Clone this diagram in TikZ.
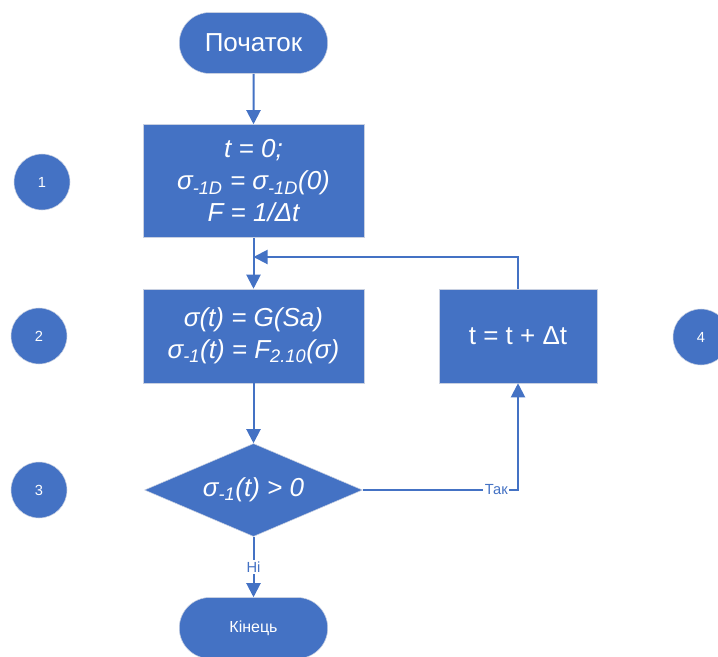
\documentclass[tikz,border=0pt]{standalone}
\usepackage{fontspec}
\setmainfont{Liberation Sans}
\usetikzlibrary{shapes.geometric, shapes.misc, arrows.meta}
\definecolor{officeblue}{HTML}{4472C4}
\definecolor{edgegray}{RGB}{200,208,225}
\begin{document}
\begin{tikzpicture}[x=0.75pt, y=-0.75pt,
    block/.style={rectangle, fill=officeblue, draw=edgegray, line width=0.4pt, text=white, align=center, inner sep=2pt},
    term/.style={rounded rectangle, fill=officeblue, draw=edgegray, line width=0.4pt, text=white, minimum width=118pt, minimum height=45.75pt},
    num/.style={circle, fill=officeblue, draw=edgegray, line width=0.4pt, text=white, minimum size=42pt, inner sep=0pt, font=\fontsize{11}{13}\selectfont},
    big/.style={font=\fontsize{19.5}{24}\selectfont},
    bigit/.style={font=\fontsize{19.5}{24}\selectfont\itshape},
    arr/.style={draw=officeblue, line width=1.5pt, -{Triangle[width=10.5pt,length=10.5pt]}},
    lbl/.style={fill=white, text=officeblue, inner sep=1pt, font=\fontsize{11}{13}\selectfont}]
    \useasboundingbox (0,0) rectangle (718,657);
    \node[term, big] (start) at (253.5,43) {Початок};
    \node[block, bigit, minimum width=165.75pt, minimum height=84.75pt] (init) at (253.5,181) {t = 0;\\ σ\textsubscript{-1D} = σ\textsubscript{-1D}(0)\\ F = 1/Δt};
    \node[block, bigit, minimum width=165.75pt, minimum height=70.5pt] (calc) at (253.5,336) {σ(t) = G(Sa)\\ σ\textsubscript{-1}(t) = F\textsubscript{2.10}(σ)};
    \node[diamond, fill=officeblue, draw=edgegray, line width=0.4pt, text=white, bigit, inner sep=0pt, shape aspect=2.4, minimum width=163.5pt, minimum height=69.75pt] (cond) at (253.5,490) {σ\textsubscript{-1}(t) > 0};
    \node[term, font=\fontsize{12}{14}\selectfont] (finish) at (253.5,628) {Кінець};
    \node[block, big, minimum width=118.5pt, minimum height=70.5pt] (incr) at (518,336) {t = t + Δt};
    \node[num] (c1) at (42,182) {1};
    \node[num] (c2) at (39,336) {2};
    \node[num] (c3) at (39,490) {3};
    \node[num] (c4) at (701,337) {4};
    \coordinate (merge) at (253.5,257);
    \draw[arr] (start) -- (init);
    \draw[arr] (init) -- (calc);
    \draw[arr] (incr.north) |- (merge);
    \draw[arr] (calc) -- (cond);
    \draw[arr] (cond.east) -| node[lbl, pos=0.43] {Так} (incr.south);
    \draw[arr] (cond.south) -- node[lbl, pos=0.5] {Ні} (finish.north);
\end{tikzpicture}
\end{document}
